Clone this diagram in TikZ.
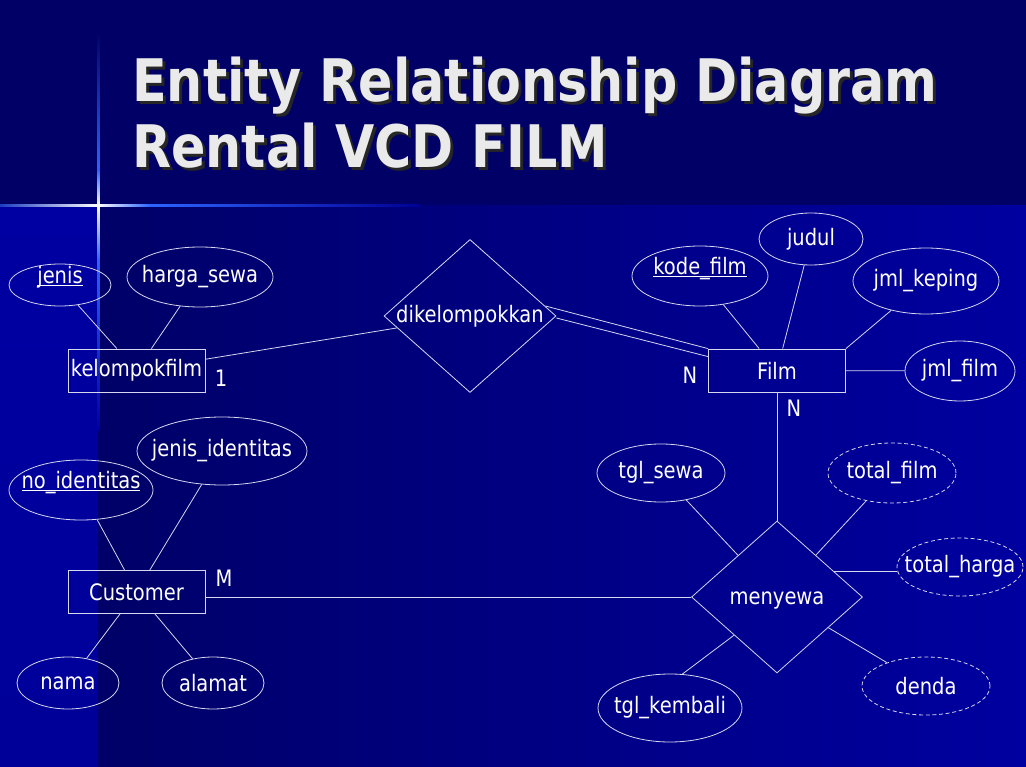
\documentclass[tikz,border=0pt]{standalone}
\usepackage{fontspec}
\usetikzlibrary{shapes.geometric,positioning,calc}
\newfontfamily\diagfont{DejaVu Sans}[FakeStretch=0.86]
\newfontfamily\titlefont{DejaVu Sans}[FakeStretch=0.865]
\definecolor{bgtop}{RGB}{0,0,102}
\definecolor{bgleft}{RGB}{0,0,104}
\definecolor{bgright}{RGB}{0,0,160}
\definecolor{stripcol}{RGB}{0,0,162}
\definecolor{sparkblue}{RGB}{45,100,255}
\definecolor{linecol}{RGB}{215,215,240}
\definecolor{titlecol}{RGB}{234,234,234}
\newcommand{\keyattr}[1]{\underline{\smash{#1}}}

\begin{document}
\begin{tikzpicture}[x=0.75pt,y=-0.75pt,
  every node/.style={font=\diagfont\fontsize{17}{20}\selectfont, text=white},
  entity/.style={draw=linecol, line width=0.6pt, rectangle, inner sep=0pt,
    minimum width=102.75pt, minimum height=32.25pt},
  attr/.style={draw=linecol, line width=0.6pt, ellipse, inner sep=0pt,
    execute at begin node={\hbox to 0pt\bgroup\hss},
    execute at end node={\hss\egroup}},
  derived/.style={attr, dash pattern=on 3pt off 2pt},
  rel/.style={draw=linecol, line width=0.6pt, diamond, inner sep=0pt},
  conn/.style={draw=linecol, line width=0.6pt},
  titletext/.style={font=\titlefont\bfseries\fontsize{44}{50}\selectfont,
    anchor=base west, inner sep=0pt}]
  \useasboundingbox (0,0) rectangle (1026,767);

  % Background
  \fill[bgtop] (0,0) rectangle (1026,205);
  \shade[left color=bgleft, right color=bgright, middle color=bgleft!50!bgright] (98,205) rectangle (1026,767);
  \shade[top color=stripcol, bottom color=stripcol!94!black] (0,205) rectangle (98,767);
  % Sparkle
  \shade[left color=sparkblue!60!bgtop, right color=white] (0,204) rectangle (98,206.5);
  \shade[left color=white, right color=sparkblue] (98,204) rectangle (150,206.5);
  \shade[left color=sparkblue, right color=bgright!80!bgtop] (150,204) rectangle (420,206.5);
  \shade[top color=bgtop, bottom color=sparkblue] (97,30) rectangle (99.5,170);
  \shade[top color=sparkblue, bottom color=white] (97,170) rectangle (99.5,205);
  \shade[top color=white, bottom color=sparkblue] (97,205) rectangle (99.5,260);
  \shade[top color=sparkblue, bottom color=stripcol] (97,260) rectangle (99.5,430);

  % Title
  \node[titletext, text=black!85] at (135,105) {Entity Relationship Diagram};
  \node[titletext, text=black!85] at (135,171) {Rental VCD FILM};
  \node[titletext, text=titlecol] (title1) at (132,102) {Entity Relationship Diagram};
  \node[titletext, text=titlecol] (title2) at (132,168) {Rental VCD FILM};

  % Entities
  \node[entity] (kf) at (136.5,370.5) {kelompokfilm};
  \node[entity] (film) at (777,370.5) {Film};
  \node[entity] (cust) at (136.5,592) {Customer};

  % Relationships
  \node[rel, minimum width=129pt, minimum height=114.75pt,
    label=center:dikelompokkan] (dik) at (470,316) {};
  \node[rel, minimum width=128.25pt, minimum height=114pt,
    label={[yshift=-3pt]center:menyewa}] (menyewa) at (777,597) {};

  % Attributes of kelompokfilm
  \node[attr, minimum width=76.5pt, minimum height=31.5pt] (jenis) at (60,285) {\keyattr{jenis}};
  \node[attr, minimum width=109.5pt, minimum height=45pt] (hargasewa) at (200,277) {harga\_sewa};

  % Attributes of Film
  \node[attr, minimum width=102pt, minimum height=45pt] (kodefilm) at (700,276) {\keyattr{kode\_film}};
  \node[attr, minimum width=78pt, minimum height=39pt] (judul) at (811,239) {judul};
  \node[attr, minimum width=109.5pt, minimum height=49.5pt] (jmlkeping) at (926,281) {jml\_keping};
  \node[attr, minimum width=82.5pt, minimum height=45pt] (jmlfilm) at (960,371) {jml\_film};

  % Attributes of Customer
  \node[attr, minimum width=108pt, minimum height=45pt] (noid) at (81,490) {\keyattr{no\_identitas}};
  \node[attr, minimum width=127.5pt, minimum height=51pt] (jenisid) at (222,451) {jenis\_identitas};
  \node[attr, minimum width=76.5pt, minimum height=39pt] (nama) at (68,683) {nama};
  \node[attr, minimum width=76.5pt, minimum height=39pt] (alamat) at (213,683) {alamat};

  % Attributes of menyewa
  \node[attr, minimum width=96pt, minimum height=43.5pt] (tglsewa) at (661,473) {tgl\_sewa};
  \node[attr, minimum width=108pt, minimum height=51pt] (tglkembali) at (670,708) {tgl\_kembali};
  \node[derived, minimum width=96pt, minimum height=45pt] (totalfilm) at (892,473) {total\_film};
  \node[derived, minimum width=94.5pt, minimum height=43.5pt] (totalharga) at (960,567) {total\_harga};
  \node[derived, minimum width=96pt, minimum height=43.5pt] (denda) at (926,686) {denda};

  % Cardinalities
  \node (c1) at (221,378) {1};
  \node (cn1) at (690,375) {N};
  \node (cn2) at (794,408) {N};
  \node (cm) at (224,578) {M};

  % Connectors
  \draw[conn] (jenis) -- (kf);
  \draw[conn] (hargasewa) -- (kf);
  \draw[conn] (kf) -- (dik);
  \draw[conn] ([shift={(-11,-10)}]dik.east) -- (film.north west);
  \draw[conn] ([shift={(0,2)}]dik.east) -- ([shift={(0,8)}]film.north west);
  \draw[conn] (kodefilm) -- (film);
  \draw[conn] (judul) -- (film);
  \draw[conn] (jmlkeping) -- (film.north east);
  \draw[conn] (jmlfilm) -- (film);
  \draw[conn] (film) -- (menyewa);
  \draw[conn] (menyewa.west -| cust.east) -- (menyewa.west);
  \draw[conn] (noid) -- (cust);
  \draw[conn] (jenisid) -- (cust);
  \draw[conn] (nama) -- (cust);
  \draw[conn] (alamat) -- (cust);
  \draw[conn] (tglsewa) -- (menyewa);
  \draw[conn] (totalfilm) -- (menyewa);
  \coordinate (mh) at ($(menyewa.north)!0.66!(menyewa.east)$);
  \draw[conn] (mh) -- (mh -| totalharga.west);
  \draw[conn] (denda) -- (menyewa);
  \draw[conn] (tglkembali.70) -- (menyewa.south west);
\end{tikzpicture}
\end{document}
